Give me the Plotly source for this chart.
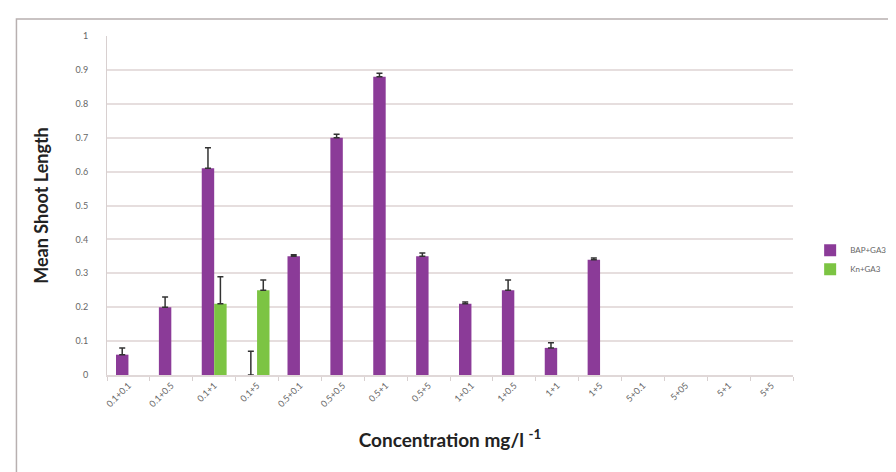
import plotly.graph_objects as go

categories = ["0.1+0.1", "0.1+0.5", "0.1+1", "0.1+5", "0.5+0.1", "0.5+0.5", "0.5+1", "0.5+5",
              "1+0.1", "1+0.5", "1+1", "1+5", "5+0.1", "5+05", "5+1", "5+5"]
# None = no bar drawn (nothing shown in the reference)
bap_values = [0.06, 0.20, 0.61, 0.0, 0.35, 0.70, 0.88, 0.35, 0.21, 0.25, 0.08, 0.34,
              None, None, None, None]
bap_errors = [0.02, 0.03, 0.06, 0.07, 0.005, 0.01, 0.01, 0.01, 0.005, 0.03, 0.015, 0.005,
              0, 0, 0, 0]
kn_values = [None, None, 0.21, 0.25, None, None, None, None, None, None, None, None,
             None, None, None, None]
kn_errors = [0, 0, 0.08, 0.03, 0, 0, 0, 0, 0, 0, 0, 0, 0, 0, 0, 0]
y_ticks = [0, 0.1, 0.2, 0.3, 0.4, 0.5, 0.6, 0.7, 0.8, 0.9, 1]
y_tick_labels = ["0", "0.1", "0.2", "0.3", "0.4", "0.5", "0.6", "0.7", "0.8", "0.9", "1"]

zeros = [0] * len(categories)

fig = go.Figure()
fig.add_trace(go.Bar(
    x=categories, y=bap_values, name="BAP+GA3",
    marker=dict(color="#8b3b98", line=dict(width=0)),
    error_y=dict(type="data", array=bap_errors, arrayminus=zeros, symmetric=False,
                 color="#333333", thickness=1.5, width=3),
))
fig.add_trace(go.Bar(
    x=categories, y=kn_values, name="Kn+GA3",
    marker=dict(color="#7cc443", line=dict(width=0)),
    error_y=dict(type="data", array=kn_errors, arrayminus=zeros, symmetric=False,
                 color="#333333", thickness=1.5, width=3),
))

fig.update_layout(
    width=896, height=472,
    margin=dict(l=99, r=106, t=28, b=105),
    paper_bgcolor="white", plot_bgcolor="white",
    barmode="group", bargap=0.42, bargroupgap=0.0,
    font=dict(family="Lato, Open Sans, sans-serif", color="#555555"),
    showlegend=True,
    legend=dict(x=1.025, y=0.34, xanchor="left", yanchor="middle",
                font=dict(size=8, color="#666666"), bgcolor="rgba(0,0,0,0)",
                itemwidth=30, tracegroupgap=6),
    shapes=[dict(type="rect", xref="paper", yref="paper",
                 x0=-0.132, x1=1.142, y0=-0.298, y1=1.05,
                 line=dict(color="#b8b0b0", width=1.5), fillcolor="rgba(0,0,0,0)")],
)

fig.update_yaxes(
    range=[0, 1], tickvals=y_ticks, ticktext=y_tick_labels,
    tickfont=dict(size=9, color="#666666"),
    showgrid=True, gridcolor="#e6dede", gridwidth=1.5,
    showline=True, linecolor="#d8d0d0", linewidth=1,
    zeroline=False, ticks="", ticklabelstandoff=16,
    title=dict(text="Mean Shoot Length", standoff=22,
               font=dict(size=18, color="#222222", family="Lato, Open Sans, sans-serif", weight="bold")),
)
fig.update_xaxes(
    tickangle=-45, tickfont=dict(size=9, color="#666666"),
    showline=True, linecolor="#e0d8d8", linewidth=1.5,
    ticks="outside", tickson="boundaries", ticklen=4, tickcolor="#d8d0d0",
    showgrid=False,
    title=dict(text="Concentration mg/l <sup>-1</sup>", standoff=26,
               font=dict(size=19, color="#222222", family="Lato, Open Sans, sans-serif", weight="bold")),
)

fig.write_html("out.html")
